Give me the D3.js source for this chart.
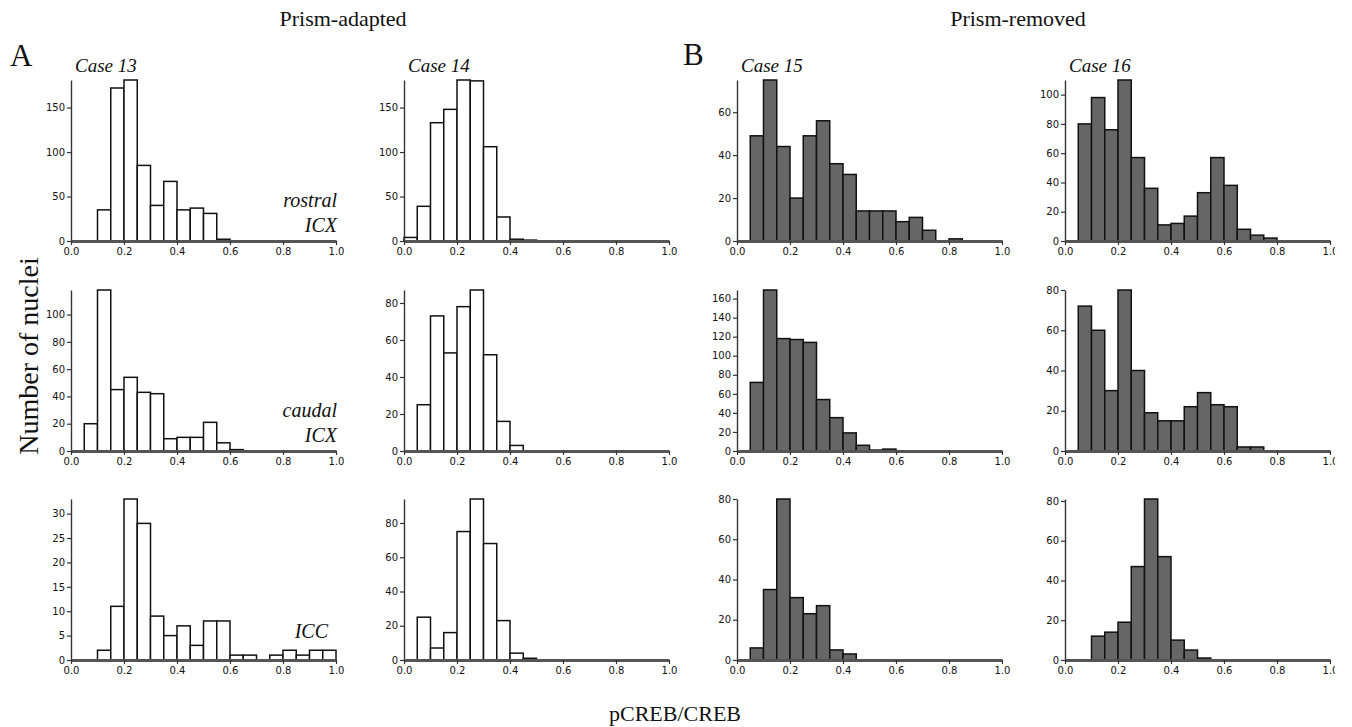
<!DOCTYPE html>
<html>
<head>
<meta charset="utf-8">
<script src="https://cdn.jsdelivr.net/npm/d3@7"></script>
<style>
  html, body { margin: 0; padding: 0; background: #fff; }
  svg { display: block; }
  .tick text { font-family: "DejaVu Sans", sans-serif; font-size: 10px; fill: #111; }
  .serif { font-family: "Liberation Serif", "Times New Roman", serif; fill: #111; }
</style>
</head>
<body>
<svg id="chart" width="1352" height="727"></svg>
<script>
// Histogram bins of pCREB/CREB ratio (bin start, width 0.05)
const binStarts = [0.00, 0.05, 0.10, 0.15, 0.20, 0.25, 0.30, 0.35, 0.40, 0.45,
                   0.50, 0.55, 0.60, 0.65, 0.70, 0.75, 0.80, 0.85, 0.90, 0.95];
const binWidth = 0.05;

// Counts of nuclei per bin
const rostral13 = [0, 0, 35, 172, 181, 85, 40, 67, 35, 37, 31, 2, 0, 0, 0, 0, 0, 0, 0, 0];
const rostral14 = [4, 39, 133, 148, 181, 180, 106, 27, 2, 1, 0, 0, 0, 0, 0, 0, 0, 0, 0, 0];
const rostral15 = [0, 49, 75, 44, 20, 49, 56, 36, 31, 14, 14, 14, 9, 11, 5, 0, 1, 0, 0, 0];
const rostral16 = [0, 80, 98, 76, 110, 57, 36, 11, 12, 17, 33, 57, 38, 8, 4, 2, 0, 0, 0, 0];

const caudal13 = [0, 20, 118, 45, 54, 43, 42, 9, 10, 10, 21, 6, 1, 0, 0, 0, 0, 0, 0, 0];
const caudal14 = [0, 25, 73, 53, 78, 87, 52, 16, 3, 0, 0, 0, 0, 0, 0, 0, 0, 0, 0, 0];
const caudal15 = [0, 72, 169, 118, 117, 114, 54, 35, 19, 6, 1, 2, 0, 0, 0, 0, 0, 0, 0, 0];
const caudal16 = [0, 72, 60, 30, 80, 40, 19, 15, 15, 22, 29, 23, 22, 2, 2, 0, 0, 0, 0, 0];

const icc13 = [0, 0, 2, 11, 33, 28, 9, 5, 7, 3, 8, 8, 1, 1, 0, 1, 2, 1, 2, 2];
const icc14 = [0, 25, 7, 16, 75, 94, 68, 23, 4, 1, 0, 0, 0, 0, 0, 0, 0, 0, 0, 0];
const icc15 = [0, 6, 35, 80, 31, 23, 27, 5, 3, 0, 0, 0, 0, 0, 0, 0, 0, 0, 0, 0];
const icc16 = [0, 0, 12, 14, 19, 47, 81, 52, 10, 5, 1, 0, 0, 0, 0, 0, 0, 0, 0, 0];

// Tick labels
const xTicks = [0.0, 0.2, 0.4, 0.6, 0.8, 1.0];
const yTicks50 = [0, 50, 100, 150];
const yTicks20to60 = [0, 20, 40, 60];
const yTicks20to80 = [0, 20, 40, 60, 80];
const yTicks20to100 = [0, 20, 40, 60, 80, 100];
const yTicks20to160 = [0, 20, 40, 60, 80, 100, 120, 140, 160];
const yTicks5 = [0, 5, 10, 15, 20, 25, 30];

const cases = ["Case 13", "Case 14", "Case 15", "Case 16"];
const regions = [["rostral", "ICX"], ["caudal", "ICX"], ["ICC"]];

const panels = [
  { row: 0, col: 0, counts: rostral13, yTicks: yTicks50 },
  { row: 0, col: 1, counts: rostral14, yTicks: yTicks50 },
  { row: 0, col: 2, counts: rostral15, yTicks: yTicks20to60 },
  { row: 0, col: 3, counts: rostral16, yTicks: yTicks20to100 },
  { row: 1, col: 0, counts: caudal13, yTicks: yTicks20to100 },
  { row: 1, col: 1, counts: caudal14, yTicks: yTicks20to80 },
  { row: 1, col: 2, counts: caudal15, yTicks: yTicks20to160 },
  { row: 1, col: 3, counts: caudal16, yTicks: yTicks20to80 },
  { row: 2, col: 0, counts: icc13, yTicks: yTicks5 },
  { row: 2, col: 1, counts: icc14, yTicks: yTicks20to80 },
  { row: 2, col: 2, counts: icc15, yTicks: yTicks20to80 },
  { row: 2, col: 3, counts: icc16, yTicks: yTicks20to80 }
];

// Layout of the 4 x 3 grid
const colLeft = [71, 404, 737, 1065];
const plotWidth = 265;
const rowBase = [241, 451, 660];
const plotHeight = 161;

const svg = d3.select("#chart");

// The figure is trimmed just past the last column's axis
svg.append("defs").append("clipPath").attr("id", "edge-clip")
  .append("rect").attr("x", 0).attr("y", 0).attr("width", 1335).attr("height", 727);

const root = svg.append("g").attr("clip-path", "url(#edge-clip)");

panels.forEach(p => {
  const x0 = colLeft[p.col];
  const base = rowBase[p.row];
  const x = d3.scaleLinear().domain([0, 1]).range([x0, x0 + plotWidth]);
  const y = d3.scaleLinear().domain([0, d3.max(p.counts)]).range([base, base - plotHeight]);
  const filled = p.col >= 2;

  const g = root.append("g");

  const data = binStarts.map((b, i) => ({ start: b, count: p.counts[i] })).filter(d => d.count > 0);

  g.selectAll("rect.bar").data(data).enter().append("rect")
    .attr("class", "bar")
    .attr("x", d => x(d.start))
    .attr("width", d => x(d.start + binWidth) - x(d.start))
    .attr("y", d => y(d.count))
    .attr("height", d => y(0) - y(d.count))
    .attr("fill", filled ? "#666666" : "#ffffff")
    .attr("stroke", "#111")
    .attr("stroke-width", 1.5);

  // y axis
  const ya = g.append("g").attr("transform", `translate(${x0},0)`)
    .call(d3.axisLeft(y).tickValues(p.yTicks).tickSize(4).tickSizeOuter(0).tickPadding(2).tickFormat(d3.format("d")));
  ya.select(".domain").attr("stroke", "#333").attr("stroke-width", 1.4);
  ya.selectAll(".tick line").attr("stroke", "#333").attr("stroke-width", 1.2);

  // x axis
  const xa = g.append("g").attr("transform", `translate(0,${base})`)
    .call(d3.axisBottom(x).tickValues(xTicks).tickSize(4).tickSizeOuter(0).tickPadding(3).tickFormat(d3.format(".1f")));
  xa.select(".domain").attr("stroke", "#555").attr("stroke-width", 3.2);
  xa.selectAll(".tick line").attr("stroke", "#333").attr("stroke-width", 1.2);
});

// Case labels
cases.forEach((c, i) => {
  svg.append("text").attr("class", "serif")
    .attr("x", colLeft[i] + 4).attr("y", 72)
    .attr("font-size", 19).attr("font-style", "italic")
    .text(c);
});

// Region labels inside the Case 13 column
regions.forEach((lines, r) => {
  const right = r === 2 ? 328 : 337;
  const firstBase = r === 0 ? 207 : (r === 1 ? 417 : 638);
  lines.forEach((t, k) => {
    svg.append("text").attr("class", "serif")
      .attr("x", right).attr("y", firstBase + k * 25)
      .attr("text-anchor", "end")
      .attr("font-size", 20).attr("font-style", "italic")
      .text(t);
  });
});

// Group titles and panel letters
svg.append("text").attr("class", "serif").attr("x", 343).attr("y", 26)
  .attr("text-anchor", "middle").attr("font-size", 22).text("Prism-adapted");
svg.append("text").attr("class", "serif").attr("x", 1018).attr("y", 26)
  .attr("text-anchor", "middle").attr("font-size", 22).text("Prism-removed");
svg.append("text").attr("class", "serif").attr("x", 10).attr("y", 66)
  .attr("font-size", 31).text("A");
svg.append("text").attr("class", "serif").attr("x", 683).attr("y", 65)
  .attr("font-size", 31).text("B");

// Shared axis titles
svg.append("text").attr("class", "serif")
  .attr("transform", "translate(38,356) rotate(-90)")
  .attr("text-anchor", "middle").attr("font-size", 28).text("Number of nuclei");
svg.append("text").attr("class", "serif").attr("x", 675).attr("y", 721)
  .attr("text-anchor", "middle").attr("font-size", 22).text("pCREB/CREB");
</script>
</body>
</html>
